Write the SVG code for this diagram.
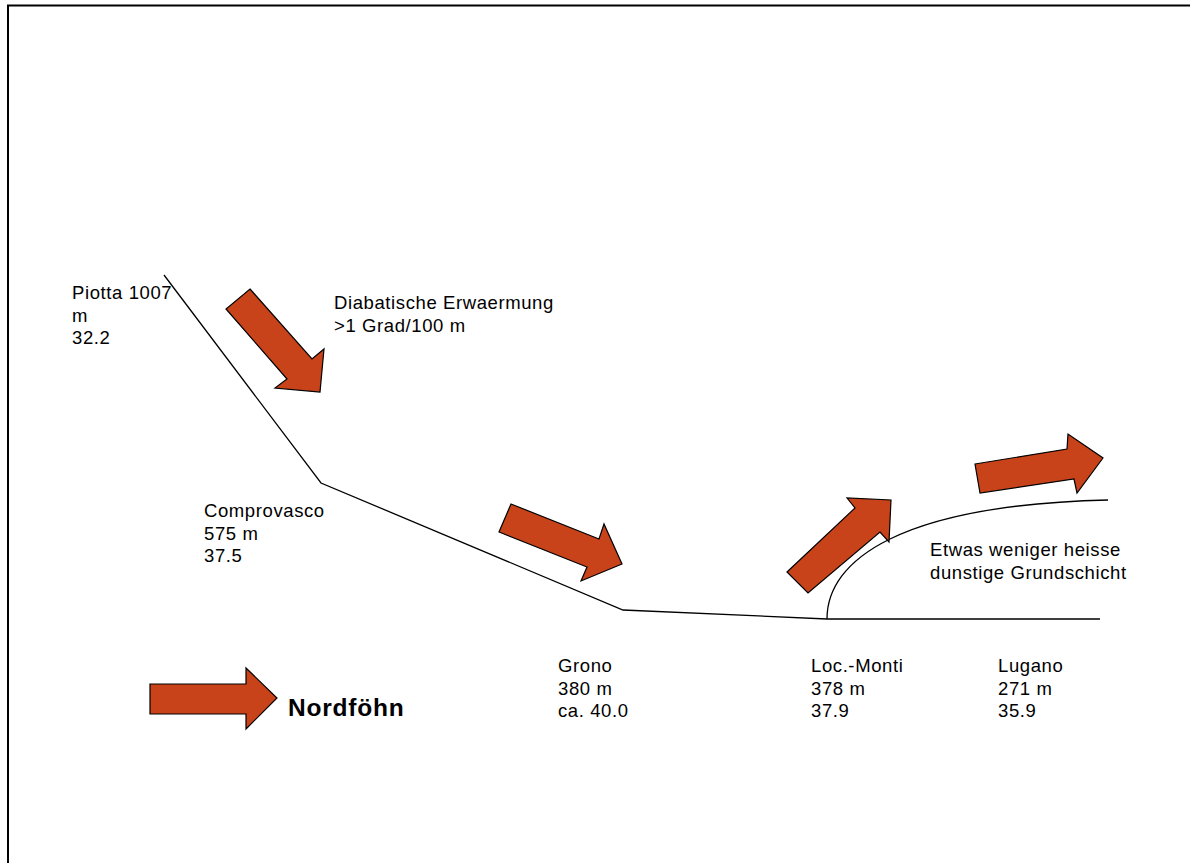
<svg xmlns="http://www.w3.org/2000/svg" width="1190" height="863" viewBox="0 0 1190 863">
<style>
.t{font-family:"Liberation Sans",Arial,sans-serif;font-size:18.5px;letter-spacing:0.6px;fill:#000}
.b{font-family:"Liberation Sans",Arial,sans-serif;font-size:24.5px;font-weight:bold;letter-spacing:0.8px;fill:#000}
.ar{fill:#C8431A;stroke:#000;stroke-width:1.2;stroke-linejoin:miter}
.ln{fill:none;stroke:#000;stroke-width:1.3}
</style>
<rect x="0" y="0" width="1190" height="863" fill="#fff"/>
<path d="M8,870 V5.5 H1200" fill="none" stroke="#000" stroke-width="2"/>
<g id="connectors">
<path class="ln" d="M164,275 L321,483 L623,610 L827,619 L1100,619"/>
<path class="ln" d="M827,619 C827,560 900,505 1108,500"/>
</g>
<g id="arrow-diabatisch"><polygon class="ar" points="250,289 312,359 324,349 320,392 275,388 287,379 226,309"/></g>
<g id="arrow-grono"><polygon class="ar" points="511,504 599,539 604,524 622,564 581,581 587,567 499,532"/></g>
<g id="arrow-monti"><polygon class="ar" points="787,572 855,508 847,498 891,500 889,542 880,532 808,593"/></g>
<g id="arrow-lugano"><polygon class="ar" points="975,464 1067,449 1068,434 1103,458 1077,493 1074,479 980,493"/></g>
<g id="arrow-nordfoehn"><polygon class="ar" points="150,684 246,684 246,668 277,698 246,729 246,714 150,714"/></g>
<g id="label-piotta"><text class="t" x="72" y="299">Piotta 1007</text><text class="t" x="72" y="321.5">m</text><text class="t" x="72" y="344">32.2</text></g>
<g id="label-comprovasco"><text class="t" x="204" y="517">Comprovasco</text><text class="t" x="204" y="539.5">575 m</text><text class="t" x="204" y="562">37.5</text></g>
<g id="label-diabatisch"><text class="t" x="334" y="309">Diabatische Erwaermung</text><text class="t" x="334" y="332">&gt;1 Grad/100 m</text></g>
<g id="label-grundschicht"><text class="t" x="930" y="556">Etwas weniger heisse</text><text class="t" x="930" y="579">dunstige Grundschicht</text></g>
<g id="label-grono"><text class="t" x="558" y="672">Grono</text><text class="t" x="558" y="694.5">380 m</text><text class="t" x="558" y="717">ca. 40.0</text></g>
<g id="label-monti"><text class="t" x="811" y="672">Loc.-Monti</text><text class="t" x="811" y="694.5">378 m</text><text class="t" x="811" y="717">37.9</text></g>
<g id="label-lugano"><text class="t" x="998" y="672">Lugano</text><text class="t" x="998" y="694.5">271 m</text><text class="t" x="998" y="717">35.9</text></g>
<g id="label-nordfoehn"><text class="b" x="288" y="716">Nordföhn</text></g>
</svg>
